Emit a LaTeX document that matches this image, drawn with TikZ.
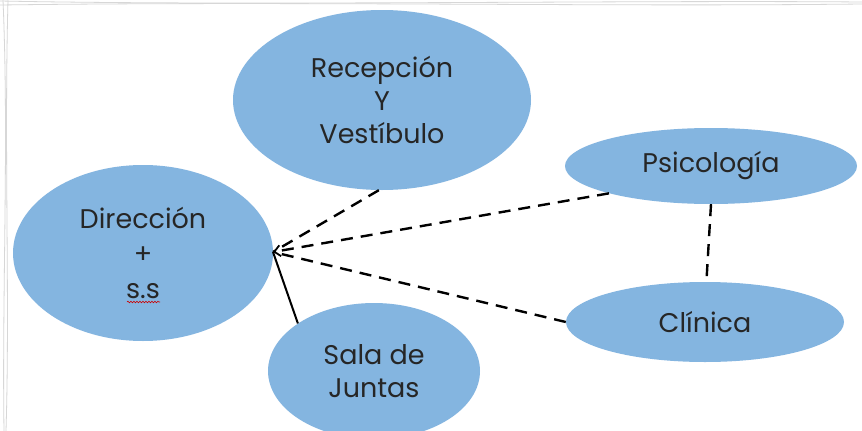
\documentclass[tikz,border=0pt]{standalone}
\usepackage{fontspec}
\setmainfont{Poppins}
\usetikzlibrary{shapes.geometric,arrows.meta,decorations.pathmorphing}
\definecolor{bub}{RGB}{132,181,224}
\definecolor{sketch}{RGB}{215,215,215}
\tikzset{
  bubble/.style={ellipse,fill=bub,draw=none,inner sep=0pt,align=center,
    font=\fontsize{27}{33}\selectfont,text=black!85},
  link/.style={line width=2.4pt,black},
  dlink/.style={link,dash pattern=on 12pt off 8pt},
}
\begin{document}
\begin{tikzpicture}[x=1pt,y=-1pt]
\useasboundingbox (0,0) rectangle (862,431);
\clip (0,0) rectangle (862,431);
\fill[white] (0,0) rectangle (862,431);
% faint sketchy frame
\draw[sketch,line width=0.8pt] (0,5) .. controls (300,1) and (600,7) .. (862,4);
\draw[sketch,line width=0.8pt] (0,1) .. controls (250,6) and (620,0) .. (862,2);
\draw[sketch,line width=0.8pt] (8,0) .. controls (4,150) and (10,300) .. (6,431);
\draw[sketch,line width=0.8pt] (3,0) .. controls (9,140) and (2,290) .. (4,431);
% nodes
\node[bubble,minimum width=298pt,minimum height=180pt] (rec) at (382,100) {Recepción\\Y\\Vestíbulo};
\node[bubble,minimum width=260pt,minimum height=176pt,font=\fontsize{27}{35}\selectfont] (dir) at (143,253) {Dirección\\+\\s.s};
\node[bubble,minimum width=292pt,minimum height=76pt] (psi) at (711,166) {Psicología};
\node[bubble,minimum width=278pt,minimum height=80pt] (cli) at (705,322) {Clínica};
\node[bubble,minimum width=212pt,minimum height=136pt] (sala) at (374,371) {Sala de\\Juntas};
% spelling underline under s.s
\draw[red!80!black,line width=0.6pt,decorate,decoration={snake,amplitude=0.8pt,segment length=3pt}] (127,302) -- (160,302);
% hub
\coordinate (hub) at (273,252);
\draw[dlink] (rec.-92) -- (hub);
\draw[dlink,-{Straight Barb[length=6pt,width=11pt,line width=1.8pt]}] (psi.195) -- (hub);
\draw[dlink] (cli.west) -- (hub);
\draw[link,line width=2pt] (sala.148) -- (hub);
\draw[dlink] (psi.-90) -- (cli.88);
\end{tikzpicture}
\end{document}
